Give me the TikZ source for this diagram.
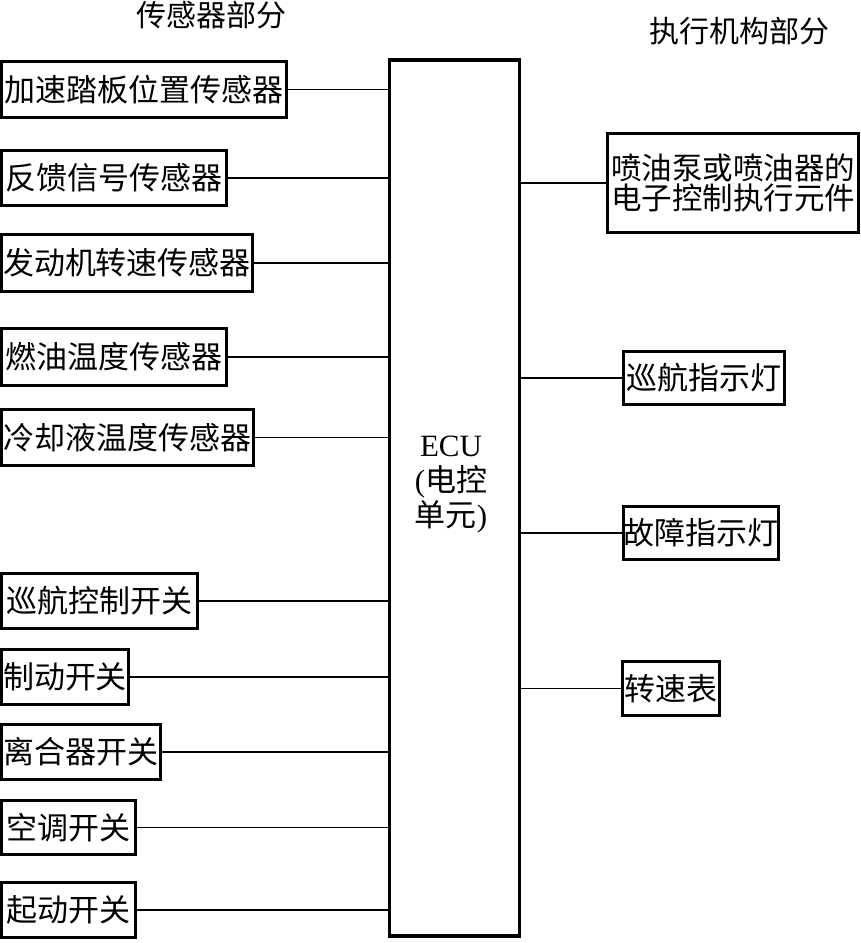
\documentclass[tikz,border=0pt]{standalone}
\usepackage{fontspec}
\setmainfont{Noto Sans CJK SC}
\newfontfamily\lat{Liberation Serif}
\begin{document}
\begin{tikzpicture}[x=1pt,y=-1pt,
  box/.style={draw,line width=3.4pt,rectangle,inner sep=0pt,font=\fontsize{31}{31}\selectfont},
  wire/.style={line width=1.9pt},
  title/.style={inner sep=0pt,font=\fontsize{30}{31}\selectfont}]
\useasboundingbox (0,0) rectangle (861,943);
% titles
\node[title] (t1) at (211,15) {传感器部分};
\node[title] (t2) at (739.5,31) {执行机构部分};
% ECU
\node[draw,line width=3.4pt,rectangle,inner sep=0pt,minimum width=130,minimum height=876] (ecu) at (454.5,498) {};
\node[inner sep=0pt,align=center,font=\fontsize{31}{35}\selectfont] (ecut) at (451,485) {{\lat ECU}\\{\lat (}电控\\单元{\lat )}};
% sensors
\node[box,minimum width=285,minimum height=56] (s1) at (144,89.5) {加速踏板位置传感器};
\node[box,minimum width=225,minimum height=55] (s2) at (114,178) {反馈信号传感器};
\node[box,minimum width=251,minimum height=57] (s3) at (127,263) {发动机转速传感器};
\node[box,minimum width=225,minimum height=57] (s4) at (114,357) {燃油温度传感器};
\node[box,minimum width=252,minimum height=56] (s5) at (127.5,437.5) {冷却液温度传感器};
\node[box,minimum width=196,minimum height=55] (s6) at (99.5,601) {巡航控制开关};
\node[box,minimum width=127,minimum height=55] (s7) at (65,677) {制动开关};
\node[box,minimum width=159,minimum height=55] (s8) at (81,752) {离合器开关};
\node[box,minimum width=134,minimum height=54] (s9) at (68.5,827.5) {空调开关};
\node[box,minimum width=134,minimum height=55] (s10) at (68.5,910) {起动开关};
\foreach \n in {s1,s2,s3,s4,s5,s6,s7,s8,s9,s10}
  \draw[wire] (\n.east) -- (\n.east -| ecu.west);
% actuators
\node[box,minimum width=251,minimum height=99,align=center,font=\fontsize{30.5}{30}\selectfont] (a1) at (733,183) {喷油泵或喷油器的\\电子控制执行元件};
\node[box,minimum width=161,minimum height=53] (a2) at (704,378) {巡航指示灯};
\node[box,minimum width=155,minimum height=53] (a3) at (701,533) {故障指示灯};
\node[box,minimum width=97,minimum height=54] (a4) at (671,688.5) {转速表};
\foreach \n in {a1,a2,a3,a4}
  \draw[wire] (\n.west) -- (\n.west -| ecu.east);
\end{tikzpicture}
\end{document}
